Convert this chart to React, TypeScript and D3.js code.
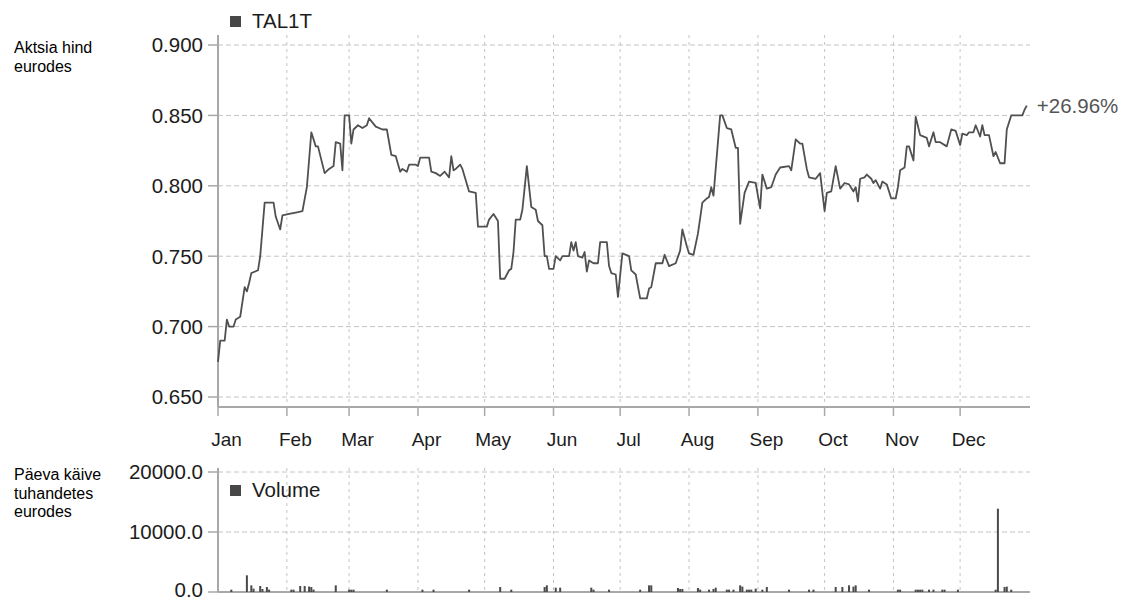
import { useEffect, useRef } from "react";
import * as d3 from "d3";

const YEAR = 2013;
const MONTHS = ["Jan", "Feb", "Mar", "Apr", "May", "Jun", "Jul", "Aug", "Sep", "Oct", "Nov", "Dec"];
const PRICE_TICKS = [0.65, 0.7, 0.75, 0.8, 0.85, 0.9];
const VOLUME_TICKS = [0, 10000, 20000];

// day of year (0 = 1 Jan) and price in euros
const priceDays = [
  0, 1, 3, 4, 5, 7, 8, 10, 12, 13, 14, 15, 18, 19, 20, 21, 25, 26, 28, 29, 32, 35, 38, 40, 42, 44, 45, 48, 50, 52,
  53, 55, 56, 57, 59, 60, 61, 63, 65, 67, 68, 70, 71, 74, 76, 78, 80, 82, 83, 85, 86, 89, 90, 91, 95, 96, 98, 100,
  102, 104, 105, 106, 107, 109, 110, 113, 116, 117, 119, 121, 122, 124, 126, 127, 129, 131, 132, 133, 134, 136,
  137, 139, 141, 143, 144, 146, 147, 148, 149, 151, 152, 154, 155, 158, 159, 160, 161, 162, 164, 165, 166, 167,
  169, 171, 172, 175, 176, 177, 179, 180, 182, 185, 186, 188, 190, 193, 194, 195, 197, 200, 201, 203, 206, 208,
  209, 211, 212, 214, 216, 218, 220, 221, 222, 223, 226, 227, 229, 231, 233, 234, 235, 237, 239, 242, 244, 245,
  247, 249, 251, 253, 257, 258, 260, 262, 263, 265, 266, 269, 271, 273, 274, 276, 278, 280, 282, 284, 286, 287,
  288, 289, 291, 292, 294, 295, 296, 298, 299, 301, 303, 305, 306, 307, 309, 310, 311, 313, 314, 316, 319, 320,
  322, 323, 325, 328, 330, 332, 334, 335, 337, 338, 340, 341, 343, 344, 345, 347, 349, 350, 352, 354, 355, 357,
  362, 363, 364,
];
const priceValues = [
  0.675, 0.69, 0.69, 0.705, 0.7, 0.7, 0.705, 0.707, 0.728, 0.725, 0.731, 0.738, 0.74, 0.75, 0.769, 0.788, 0.788,
  0.778, 0.769, 0.779, 0.78, 0.781, 0.782, 0.799, 0.838, 0.828, 0.828, 0.809, 0.812, 0.814, 0.831, 0.83, 0.811,
  0.85, 0.85, 0.83, 0.84, 0.843, 0.841, 0.843, 0.848, 0.844, 0.842, 0.84, 0.84, 0.822, 0.821, 0.81, 0.812, 0.81,
  0.815, 0.815, 0.814, 0.82, 0.82, 0.81, 0.809, 0.807, 0.81, 0.806, 0.821, 0.811, 0.812, 0.815, 0.812, 0.796,
  0.795, 0.771, 0.771, 0.771, 0.776, 0.78, 0.775, 0.734, 0.734, 0.74, 0.741, 0.753, 0.776, 0.776, 0.783, 0.814,
  0.785, 0.783, 0.775, 0.772, 0.75, 0.75, 0.741, 0.741, 0.75, 0.747, 0.75, 0.75, 0.76, 0.754, 0.76, 0.75, 0.749,
  0.753, 0.739, 0.747, 0.745, 0.745, 0.76, 0.76, 0.743, 0.738, 0.737, 0.721, 0.752, 0.75, 0.74, 0.737, 0.72, 0.72,
  0.727, 0.728, 0.745, 0.745, 0.751, 0.743, 0.745, 0.754, 0.769, 0.757, 0.752, 0.751, 0.766, 0.788, 0.791, 0.792,
  0.799, 0.793, 0.85, 0.85, 0.841, 0.84, 0.827, 0.827, 0.773, 0.795, 0.803, 0.802, 0.784, 0.808, 0.798, 0.799,
  0.808, 0.813, 0.814, 0.811, 0.833, 0.83, 0.83, 0.812, 0.806, 0.805, 0.809, 0.782, 0.795, 0.796, 0.814, 0.798,
  0.802, 0.801, 0.796, 0.799, 0.789, 0.805, 0.806, 0.808, 0.805, 0.802, 0.804, 0.798, 0.803, 0.801, 0.791, 0.791,
  0.799, 0.811, 0.813, 0.828, 0.828, 0.818, 0.849, 0.836, 0.834, 0.828, 0.838, 0.831, 0.831, 0.828, 0.84, 0.839,
  0.829, 0.837, 0.836, 0.838, 0.838, 0.843, 0.835, 0.843, 0.836, 0.836, 0.821, 0.824, 0.816, 0.816, 0.84, 0.85,
  0.85, 0.854, 0.857,
];

// day of year and daily turnover, thousands of euros
const volumeDays = [
  6, 13, 15, 16, 19, 20, 22, 23, 33, 34, 37, 39, 41, 42, 43, 53, 59, 60, 61, 76, 92, 97, 113, 127, 132, 147, 148,
  152, 154, 168, 169, 176, 190, 194, 195, 207, 208, 209, 216, 217, 221, 223, 224, 229, 230, 232, 235, 236, 238,
  239, 240, 242, 245, 247, 257, 266, 268, 278, 281, 284, 286, 287, 293, 306, 307, 314, 315, 316, 317, 320, 322,
  326, 327, 333, 350, 351, 354, 355, 357,
];
const volumeValues = [
  390, 2780, 1110, 560, 1000, 500, 830, 400, 390, 390, 1000, 1000, 900, 830, 400, 1110, 390, 390, 390, 390, 390,
  390, 390, 830, 390, 830, 1110, 720, 720, 720, 400, 390, 390, 1110, 1110, 670, 500, 500, 670, 400, 390, 500, 720,
  390, 390, 390, 1110, 900, 390, 390, 390, 560, 390, 830, 390, 390, 390, 830, 830, 1110, 900, 1110, 390, 390, 390,
  390, 390, 390, 390, 390, 390, 390, 390, 390, 390, 13890, 830, 900, 390,
];

const FONT = "'Liberation Sans', Arial, Helvetica, sans-serif";
const GRID = "#c4c4c4";
const AXIS = "#a8a8a8";
const INK = "#1c1c1c";
const LINE = "#505050";

const dayToDate = (d: number) => d3.timeDay.offset(new Date(YEAR, 0, 1), d);

export default function App() {
  const svgRef = useRef<SVGSVGElement>(null);

  useEffect(() => {
    if (!svgRef.current) return;
    const svg = d3.select(svgRef.current);
    svg.selectAll("*").remove();

    const left = 218;
    const right = 1030;

    const x = d3
      .scaleTime()
      .domain([new Date(YEAR, 0, 1), new Date(YEAR + 1, 0, 1)])
      .range([left, 1029]);
    const monthStarts = d3.timeMonth.range(new Date(YEAR, 0, 1), new Date(YEAR + 1, 0, 1));

    // side captions
    const caption = (lines: string[], y0: number) => {
      const t = svg.append("text").attr("font-family", FONT).attr("font-size", 16).attr("fill", "#000");
      lines.forEach((l, i) => t.append("tspan").attr("x", 14).attr("y", y0 + i * 18.5).text(l));
    };
    caption(["Aktsia hind", "eurodes"], 53);
    caption(["Päeva käive", "tuhandetes", "eurodes"], 480);

    // shared frame: grid, axis, ticks
    const frame = (
      y: d3.ScaleLinear<number, number>,
      ticks: number[],
      top: number,
      bottom: number,
      fmt: (v: number) => string,
      xTicks: boolean
    ) => {
      const g = svg.append("g");
      g.selectAll(".hgrid")
        .data(ticks.filter((t) => y(t) < bottom - 1))
        .join("line")
        .attr("x1", left)
        .attr("x2", right)
        .attr("y1", (d) => y(d))
        .attr("y2", (d) => y(d))
        .attr("stroke", GRID)
        .attr("stroke-dasharray", "5,3");
      g.selectAll(".vgrid")
        .data(monthStarts.slice(1))
        .join("line")
        .attr("x1", (d) => x(d))
        .attr("x2", (d) => x(d))
        .attr("y1", top)
        .attr("y2", bottom)
        .attr("stroke", GRID)
        .attr("stroke-dasharray", "3,4");
      g.append("line")
        .attr("x1", left)
        .attr("x2", left)
        .attr("y1", top)
        .attr("y2", bottom)
        .attr("stroke", AXIS)
        .attr("stroke-width", 2);
      g.append("line")
        .attr("x1", left)
        .attr("x2", right)
        .attr("y1", bottom)
        .attr("y2", bottom)
        .attr("stroke", AXIS)
        .attr("stroke-width", 2);
      g.selectAll(".ytick")
        .data(ticks)
        .join("line")
        .attr("x1", 208)
        .attr("x2", left + 1)
        .attr("y1", (d) => y(d))
        .attr("y2", (d) => y(d))
        .attr("stroke", AXIS)
        .attr("stroke-width", 1.5);
      g.selectAll(".ylabel")
        .data(ticks)
        .join("text")
        .attr("x", 203)
        .attr("y", (d) => Math.min(y(d), 590))
        .attr("dy", "0.36em")
        .attr("text-anchor", "end")
        .attr("font-family", FONT)
        .attr("font-size", 20.5)
        .attr("fill", INK)
        .text((d) => fmt(d));
      if (xTicks) {
        g.selectAll(".xtick")
          .data(monthStarts)
          .join("line")
          .attr("x1", (d) => x(d))
          .attr("x2", (d) => x(d))
          .attr("y1", bottom)
          .attr("y2", bottom + 9)
          .attr("stroke", AXIS)
          .attr("stroke-width", 1.5);
        g.selectAll(".xlabel")
          .data(monthStarts)
          .join("text")
          .attr("x", (d) => x(d) + 8.5)
          .attr("y", bottom + 39)
          .attr("text-anchor", "middle")
          .attr("font-family", FONT)
          .attr("font-size", 19)
          .attr("fill", INK)
          .text((_, i) => MONTHS[i]);
      }
    };

    const legend = (label: string, y: number) => {
      svg.append("rect").attr("x", 230).attr("y", y - 12).attr("width", 11).attr("height", 11).attr("fill", "#474747");
      svg
        .append("text")
        .attr("x", 252)
        .attr("y", y)
        .attr("font-family", FONT)
        .attr("font-size", 20.5)
        .attr("fill", INK)
        .text(label);
    };

    // price panel
    const yPrice = d3.scaleLinear().domain([0.65, 0.9]).range([397, 45]);
    frame(yPrice, PRICE_TICKS, 35, 407, d3.format(".3f"), true);

    const pricePoints = priceDays.map((d, i) => ({ date: dayToDate(d), value: priceValues[i] }));
    const line = d3
      .line<{ date: Date; value: number }>()
      .x((d) => x(d.date))
      .y((d) => yPrice(d.value));
    svg
      .append("path")
      .datum(pricePoints)
      .attr("fill", "none")
      .attr("stroke", LINE)
      .attr("stroke-width", 1.8)
      .attr("stroke-linejoin", "round")
      .attr("d", line);

    const first = pricePoints[0];
    const last = pricePoints[pricePoints.length - 1];
    const change = (last.value / first.value - 1) * 100;
    svg
      .append("text")
      .attr("x", x(last.date) + 10)
      .attr("y", yPrice(last.value))
      .attr("dy", "0.36em")
      .attr("font-family", FONT)
      .attr("font-size", 20.5)
      .attr("fill", "#555")
      .text(`${change >= 0 ? "+" : ""}${change.toFixed(2)}%`);
    legend("TAL1T", 28);

    // volume panel
    const yVol = d3.scaleLinear().domain([0, 20000]).range([592, 472]);
    frame(yVol, VOLUME_TICKS, 468, 592, d3.format(".1f"), false);

    svg
      .append("g")
      .selectAll("rect")
      .data(volumeDays.map((d, i) => ({ date: dayToDate(d), value: volumeValues[i] })))
      .join("rect")
      .attr("x", (d) => x(d.date) - 1)
      .attr("width", 2)
      .attr("y", (d) => yVol(d.value))
      .attr("height", (d) => yVol(0) - yVol(d.value))
      .attr("fill", "#4a4a4a");
    legend("Volume", 497);
  }, []);

  return (
    <div style={{ position: "absolute", left: 0, top: 0, width: 1123, height: 600, background: "#fff" }}>
      <svg ref={svgRef} width={1123} height={600} />
    </div>
  );
}
